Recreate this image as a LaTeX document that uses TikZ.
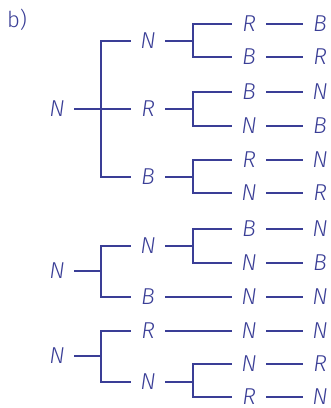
\documentclass[tikz,border=0pt]{standalone}
\usepackage{fontspec}
\setmainfont{Fira Sans Light}[ItalicFont={Fira Sans Light Italic}]
\definecolor{ink}{RGB}{58,62,150}
\begin{document}
\begin{tikzpicture}[x=1pt,y=-1pt,
  lab/.style={inner sep=0pt,minimum width=34pt,font=\fontsize{23}{26}\selectfont\itshape,text=ink},
  ln/.style={draw=ink,line width=1.8pt}]
\useasboundingbox (0,0) rectangle (331,408);
\node[inner sep=0pt,font=\fontsize{22}{26}\selectfont,text=ink] (tag) at (17,20) {b)};
% tree 1
\node[lab] (A) at (57,109) {N};
\node[lab] (A1) at (148,41) {N};
\node[lab] (A2) at (148,109) {R};
\node[lab] (A3) at (148,177) {B};
\node[lab] (A11) at (249,24) {R};  \node[lab] (A11e) at (320,24) {B};
\node[lab] (A12) at (249,57) {B};  \node[lab] (A12e) at (320,57) {R};
\node[lab] (A21) at (249,92) {B};  \node[lab] (A21e) at (320,92) {N};
\node[lab] (A22) at (249,126) {N}; \node[lab] (A22e) at (320,126) {B};
\node[lab] (A31) at (249,160) {R}; \node[lab] (A31e) at (320,160) {N};
\node[lab] (A32) at (249,193) {N}; \node[lab] (A32e) at (320,193) {R};
\coordinate (jA) at (101,109);
\coordinate (jA1) at (193,41);
\coordinate (jA2) at (193,109);
\coordinate (jA3) at (193,177);
\draw[ln] (A.east) -- (A2.west);
\draw[ln] (A1.west) -| (jA) |- (A3.west);
\draw[ln] (A1.east) -- (jA1);
\draw[ln] (A11.west) -| (jA1) |- (A12.west);
\draw[ln] (A2.east) -- (jA2);
\draw[ln] (A21.west) -| (jA2) |- (A22.west);
\draw[ln] (A3.east) -- (jA3);
\draw[ln] (A31.west) -| (jA3) |- (A32.west);
\foreach \n in {A11,A12,A21,A22,A31,A32} \draw[ln] (\n.east) -- (\n e.west);
% tree 2
\node[lab] (B) at (57,271) {N};
\node[lab] (B1) at (148,246) {N};
\node[lab] (B2) at (148,297) {B};
\node[lab] (B11) at (249,229) {B}; \node[lab] (B11e) at (320,229) {N};
\node[lab] (B12) at (249,263) {N}; \node[lab] (B12e) at (320,263) {B};
\node[lab] (B21) at (249,297) {N}; \node[lab] (B21e) at (320,297) {N};
\coordinate (jB) at (101,271);
\coordinate (jB1) at (193,246);
\draw[ln] (B.east) -- (jB);
\draw[ln] (B1.west) -| (jB) |- (B2.west);
\draw[ln] (B1.east) -- (jB1);
\draw[ln] (B11.west) -| (jB1) |- (B12.west);
\draw[ln] (B2.east) -- (B21.west);
\foreach \n in {B11,B12,B21} \draw[ln] (\n.east) -- (\n e.west);
% tree 3
\node[lab] (C) at (57,356) {N};
\node[lab] (C1) at (148,331) {R};
\node[lab] (C2) at (148,382) {N};
\node[lab] (C11) at (249,331) {N}; \node[lab] (C11e) at (320,331) {N};
\node[lab] (C21) at (249,364) {N}; \node[lab] (C21e) at (320,364) {R};
\node[lab] (C22) at (249,397) {R}; \node[lab] (C22e) at (320,397) {N};
\coordinate (jC) at (101,356);
\coordinate (jC2) at (193,382);
\draw[ln] (C.east) -- (jC);
\draw[ln] (C1.west) -| (jC) |- (C2.west);
\draw[ln] (C1.east) -- (C11.west);
\draw[ln] (C2.east) -- (jC2);
\draw[ln] (C21.west) -| (jC2) |- (C22.west);
\foreach \n in {C11,C21,C22} \draw[ln] (\n.east) -- (\n e.west);
\end{tikzpicture}
\end{document}
